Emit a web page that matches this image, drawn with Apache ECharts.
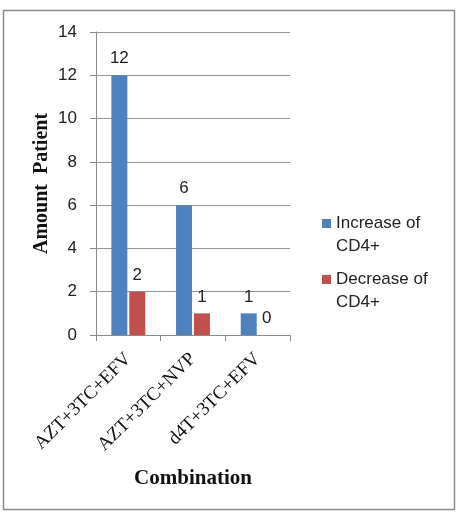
<!DOCTYPE html>
<html><head><meta charset="utf-8">
<script src="https://cdn.jsdelivr.net/npm/echarts@6/dist/echarts.min.js"></script>
<style>html,body{margin:0;padding:0;background:#fff}#c{width:463px;height:515px}</style>
</head><body><div id="c"></div>
<script>
const categories = ['AZT+3TC+EFV', 'AZT+3TC+NVP', 'd4T+3TC+EFV'];
const seriesNames = ['Increase of\nCD4+', 'Decrease of\nCD4+'];
const increaseCD4 = [12, 6, 1];
const decreaseCD4 = [2, 1, 0];
const yTicks = [0, 2, 4, 6, 8, 10, 12, 14];

const chart = echarts.init(document.getElementById('c'), null, {renderer: 'canvas'});
const labelStyle = {show: true, position: 'top', distance: 8, fontFamily: 'Liberation Sans, Arial', fontSize: 17, color: '#222'};
const legendText = {fontFamily: 'Liberation Sans, Arial', fontSize: 17, color: '#222', lineHeight: 23};
function legendAt(name, top) {
  return {
    orient: 'vertical', left: 322, top: top, padding: 0, itemWidth: 9, itemHeight: 9, itemGap: 0,
    icon: 'rect', textStyle: legendText, data: [name],
    formatter: n => ' \n' + n
  };
}
chart.setOption({
  animation: false,
  graphic: [{
    type: 'rect', shape: {x: 3.5, y: 10.5, width: 451, height: 499},
    style: {fill: 'none', stroke: '#8a8a8a', lineWidth: 1.5}, z: -1
  }],
  grid: {left: 96, right: 173, top: 32, bottom: 180},
  legend: [legendAt(seriesNames[0], 189), legendAt(seriesNames[1], 245)],
  xAxis: {
    type: 'category', data: categories,
    name: 'Combination', nameLocation: 'middle', nameGap: 133,
    nameTextStyle: {fontFamily: 'Liberation Serif, Times New Roman', fontWeight: 'bold', fontSize: 21, color: '#111'},
    axisLine: {lineStyle: {color: '#8a8a8a', width: 1}},
    axisTick: {show: true, length: 6, lineStyle: {color: '#8a8a8a'}},
    axisLabel: {rotate: 45, fontFamily: 'Liberation Serif, Times New Roman', fontSize: 19, color: '#111', margin: 21}
  },
  yAxis: {
    type: 'value', min: yTicks[0], max: yTicks[yTicks.length - 1], interval: 2,
    name: 'Amount  Patient', nameLocation: 'middle', nameGap: 44,
    nameTextStyle: {fontFamily: 'Liberation Serif, Times New Roman', fontWeight: 'bold', fontSize: 20, color: '#111'},
    axisLine: {show: true, lineStyle: {color: '#8a8a8a', width: 1}},
    axisTick: {show: true, length: 6, lineStyle: {color: '#8a8a8a'}},
    axisLabel: {fontFamily: 'Liberation Sans, Arial', fontSize: 17, color: '#222', margin: 19},
    splitLine: {lineStyle: {color: '#959595', width: 1}}
  },
  series: [
    {name: seriesNames[0], type: 'bar', data: increaseCD4, barWidth: 16, barGap: '12%',
     itemStyle: {color: '#4F81BD'}, label: labelStyle},
    {name: seriesNames[1], type: 'bar', data: decreaseCD4, barWidth: 16,
     itemStyle: {color: '#C0504D'}, label: labelStyle}
  ]
});
</script></body></html>
